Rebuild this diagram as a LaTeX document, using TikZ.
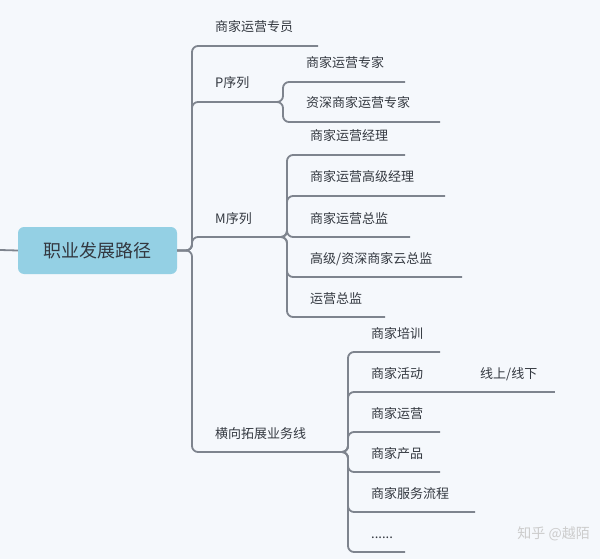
\documentclass[tikz,border=0pt]{standalone}
\usepackage{fontspec}
\newfontfamily\cjk{Noto Sans CJK SC}
\begin{document}
\begin{tikzpicture}[x=1pt,y=-1pt,
  ln/.style={draw=lineg,line width=1.8pt,rounded corners=6pt},
  lbl/.style={anchor=base west,inner sep=0pt,text=txt,font=\cjk\fontsize{13}{15}\selectfont}]
\definecolor{lineg}{HTML}{7E848E}
\definecolor{txt}{HTML}{333840}
\definecolor{rootc}{HTML}{94D0E4}
\definecolor{bg}{HTML}{F5F8FC}
\fill[bg] (0,0) rectangle (600,559);
\useasboundingbox (0,0) rectangle (600,559);
% root
\coordinate (left) at (0,250);
\node[fill=rootc,rounded corners=6pt,minimum width=159pt,minimum height=47pt,inner sep=0pt,
  text=txt,font=\cjk\fontsize{18}{20}\selectfont] (root) at (97.5,250.5) {职业发展路径};
\draw[ln] (left) -- (root.west);
% helper macro: item name, start x, end x, line y, text
\newcommand\mmitem[5]{%
  \coordinate (#1s) at (#2,#4); \coordinate (#1e) at (#3,#4);
  \node[lbl] (#1) at (#2+23,#4-14) {#5};}
% level 1
\mmitem{a}{192}{318}{46}{商家运营专员}
\mmitem{p}{192}{262}{102}{P序列}
\mmitem{m}{192}{268}{237}{M序列}
\mmitem{h}{192}{340}{452}{横向拓展业务线}
\foreach \c in {a,p,m,h} \draw[ln] (root.east) -| (\c s) -- (\c e);
% P
\mmitem{p1}{283}{405}{82}{商家运营专家}
\mmitem{p2}{283}{440}{122}{资深商家运营专家}
\foreach \c in {p1,p2} \draw[ln] (pe) -| (\c s) -- (\c e);
% M
\mmitem{m1}{287}{405}{155}{商家运营经理}
\mmitem{m2}{287}{445}{196}{商家运营高级经理}
\mmitem{m3}{287}{410}{237}{商家运营总监}
\mmitem{m4}{287}{462}{277}{高级/资深商家云总监}
\mmitem{m5}{287}{385}{317}{运营总监}
\foreach \c in {m1,m2,m3,m4,m5} \draw[ln] (me) -| (\c s) -- (\c e);
% H
\mmitem{h1}{348}{440}{352}{商家培训}
\mmitem{h2}{348}{460}{392}{商家活动}
\mmitem{h3}{348}{440}{432}{商家运营}
\mmitem{h4}{348}{440}{472}{商家产品}
\mmitem{h5}{348}{475}{512}{商家服务流程}
\mmitem{h6}{348}{405}{552}{......}
\foreach \c in {h1,h2,h3,h4,h5,h6} \draw[ln] (he) -| (\c s) -- (\c e);
% 线上/线下
\coordinate (xe) at (555,392);
\node[lbl] (x) at (480,378) {线上/线下};
\draw[ln] (h2e) -- (xe);
% watermark
\node[anchor=base east,inner sep=0pt,text=white!60!gray,font=\cjk\fontsize{14}{16}\selectfont] (wm) at (590,538) {知乎 @越陌};
\end{tikzpicture}
\end{document}
